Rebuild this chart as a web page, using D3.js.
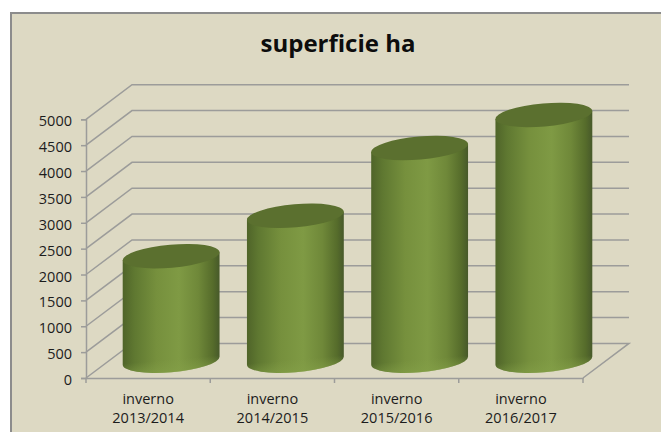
<!DOCTYPE html>
<html>
<head>
<meta charset="utf-8">
<script src="https://cdn.jsdelivr.net/npm/d3@7"></script>
<style>
  html, body { margin: 0; padding: 0; background: #fff; }
  svg { display: block; }
  text { font-family: "Open Sans", sans-serif; fill: #1c1c1c; }
</style>
</head>
<body>
<svg id="chart"></svg>
<script>
const categories = ['inverno 2013/2014', 'inverno 2014/2015', 'inverno 2015/2016', 'inverno 2016/2017'];
const values = [2020, 2800, 4110, 4750];
const yTicks = [0, 500, 1000, 1500, 2000, 2500, 3000, 3500, 4000, 4500, 5000];
const chartTitle = 'superficie ha';

const width = 661, height = 432;
const depthX = 46, depthY = 34.6;

const svg = d3.select('#chart').attr('width', width).attr('height', height);

const x = d3.scaleBand().domain(categories).range([86, 583]);
const y = d3.scaleLinear().domain([0, 5000]).range([378, 119.3]);

// background panel, only left and top border show
svg.append('rect')
  .attr('x', 11).attr('y', 13)
  .attr('width', width).attr('height', height)
  .style('fill', '#ddd9c3')
  .style('stroke', '#8c8c8c')
  .style('stroke-width', 2);

svg.append('text')
  .attr('x', 338).attr('y', 52)
  .attr('text-anchor', 'middle')
  .style('font-size', '24px')
  .style('font-weight', 'bold')
  .style('fill', '#0d0d0d')
  .text(chartTitle);

// 3d walls
const gridColor = '#9c9c9a';
const wall = svg.append('g').style('fill', 'none').style('stroke', gridColor).style('stroke-width', 1.5);

wall.selectAll('.grid')
  .data(yTicks.slice(1))
  .enter().append('path')
  .attr('class', 'grid')
  .attr('d', d => `M${x.range()[0]},${y(d)}l${depthX},${-depthY}H${x.range()[1] + depthX}`);

wall.append('path')
  .attr('d', `M${x.range()[0]},${y(0)}l${depthX},${-depthY}H${x.range()[1] + depthX}l${-depthX},${depthY}`);

// axes
const yAxis = svg.append('g')
  .attr('transform', `translate(${x.range()[0]},0)`)
  .call(d3.axisLeft(y).tickValues(yTicks).tickSize(5).tickPadding(9).tickFormat(d3.format('d')));

const xAxis = svg.append('g')
  .attr('transform', `translate(0,${y(0)})`)
  .call(d3.axisBottom(x).tickSize(0).tickPadding(0));

xAxis.selectAll('.tick text').remove();

const tickEdges = categories.map(c => x(c)).concat(x.range()[1]);
xAxis.selectAll('.edge')
  .data(tickEdges)
  .enter().append('line')
  .attr('class', 'edge')
  .attr('x1', d => d).attr('x2', d => d)
  .attr('y1', 0).attr('y2', 5);

svg.selectAll('.domain, .tick line, .edge')
  .attr('stroke', gridColor)
  .attr('stroke-width', 1.5);

yAxis.selectAll('text')
  .attr('dy', '0.45em')
  .attr('fill', '#1c1c1c')
  .style('font-size', '14.5px')
  .style('font-family', '"Open Sans", sans-serif');

const catLabels = svg.selectAll('.cat')
  .data(categories)
  .enter().append('text')
  .attr('class', 'cat')
  .attr('text-anchor', 'middle')
  .style('font-size', '14.5px');

catLabels.append('tspan')
  .attr('x', d => x(d) + x.bandwidth() / 2)
  .attr('y', 404)
  .text(d => d.split(' ')[0]);

catLabels.append('tspan')
  .attr('x', d => x(d) + x.bandwidth() / 2)
  .attr('y', 423)
  .text(d => d.split(' ')[1]);

// cylinders
const defs = svg.append('defs');
const grad = defs.append('linearGradient').attr('id', 'body').attr('x1', 0).attr('x2', 1).attr('y1', 0).attr('y2', 0);
[[0, '#4f6429'], [0.12, '#5f7831'], [0.35, '#76903d'], [0.58, '#7f9a44'], [0.78, '#6f8839'], [0.93, '#566c2b'], [1, '#47592a']]
  .forEach(s => grad.append('stop').attr('offset', s[0]).attr('stop-color', s[1]));

const rim = defs.append('linearGradient').attr('id', 'rim').attr('x1', 0).attr('x2', 0).attr('y1', 0).attr('y2', 1);
rim.append('stop').attr('offset', 0.45).attr('stop-color', '#84a048').attr('stop-opacity', 0);
rim.append('stop').attr('offset', 1).attr('stop-color', '#84a048').attr('stop-opacity', 0.6);

const rx = 48.6, ry = 11.5, tilt = -5;
const tiltRad = tilt * Math.PI / 180;
const halfW = Math.hypot(rx * Math.cos(tiltRad), ry * Math.sin(tiltRad));
const tangentY = (rx * rx - ry * ry) * Math.sin(tiltRad) * Math.cos(tiltRad) / halfW;

const bars = svg.selectAll('.bar')
  .data(categories.map((c, i) => ({ cat: c, value: values[i] })))
  .enter().append('g')
  .attr('class', 'bar')
  .attr('transform', d => `translate(${x(d.cat) + x.bandwidth() / 2 + depthX / 2},${-depthY / 2})`);

bars.append('path')
  .attr('d', d => {
    const top = y(d.value), base = y(0);
    return `M${-halfW},${top - tangentY}L${-halfW},${base - tangentY}` +
      `A${rx},${ry} ${tilt} 0 0 ${halfW},${base + tangentY}L${halfW},${top + tangentY}Z`;
  })
  .style('fill', 'url(#body)');

// lighter rim along the bottom edge
bars.append('ellipse')
  .attr('rx', rx).attr('ry', ry)
  .attr('transform', `translate(0,${y(0)}) rotate(${tilt})`)
  .style('fill', 'url(#rim)');

bars.append('ellipse')
  .attr('rx', rx).attr('ry', ry)
  .attr('transform', d => `translate(0,${y(d.value)}) rotate(${tilt})`)
  .style('fill', '#5b702f');
</script>
</body>
</html>
